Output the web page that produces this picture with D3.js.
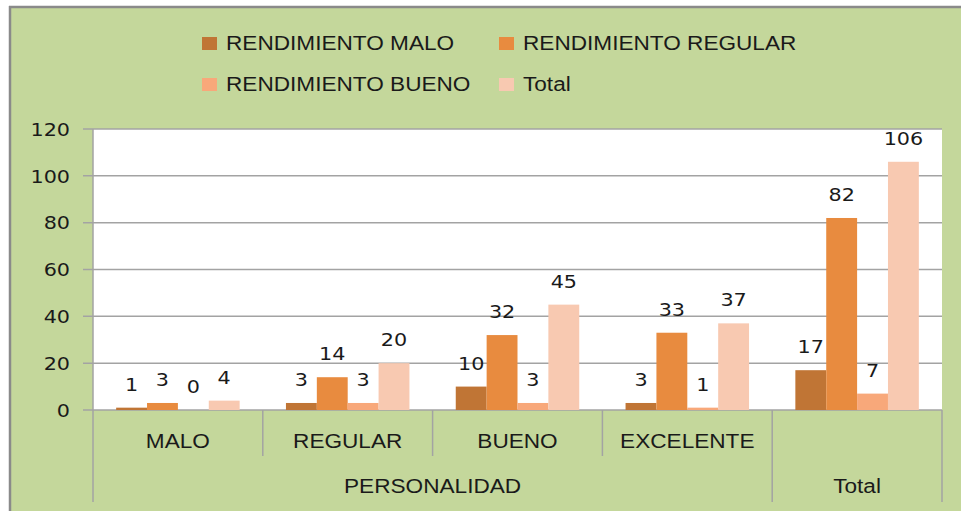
<!DOCTYPE html>
<html>
<head>
<meta charset="utf-8">
<script src="https://cdn.jsdelivr.net/npm/d3@7"></script>
<style>
  html, body { margin: 0; padding: 0; background: #fff; }
  svg { display: block; }
</style>
</head>
<body>
<svg id="chart" width="961" height="511"></svg>
<script>
const categories = ["MALO", "REGULAR", "BUENO", "EXCELENTE", "Total"];
const groupLabels = ["PERSONALIDAD", "Total"];
const series = ["RENDIMIENTO MALO", "RENDIMIENTO REGULAR", "RENDIMIENTO BUENO", "Total"];
const rendMalo    = [1, 3, 10, 3, 17];
const rendRegular = [3, 14, 32, 33, 82];
const rendBueno   = [0, 3, 3, 1, 7];
const totalVals   = [4, 20, 45, 37, 106];
const yTicks = [0, 20, 40, 60, 80, 100, 120];
const colors = ["#C07535", "#E88B3F", "#F8A87A", "#F8C9B1"];

const values = [rendMalo, rendRegular, rendBueno, totalVals];

const svg = d3.select("#chart");
const W = 961, H = 511;
const plot = { left: 93, right: 942, top: 129, bottom: 410 };
const textColor = "#1a1a1a";
const gridColor = "#A3A3A3";

function stretch(sel, factor) {
  sel.each(function () {
    const w = this.getComputedTextLength();
    d3.select(this).attr("textLength", w * factor).attr("lengthAdjust", "spacingAndGlyphs");
  });
}

// background
svg.append("rect").attr("width", W).attr("height", H).attr("fill", "#fff");
svg.append("rect").attr("x", 10).attr("y", 7).attr("width", W - 10).attr("height", H - 7).attr("fill", "#C4D79B");
svg.append("line").attr("x1", 9).attr("x2", W).attr("y1", 7).attr("y2", 7).attr("stroke", "#8A8A8A").attr("stroke-width", 2.5);
svg.append("line").attr("x1", 10).attr("x2", 10).attr("y1", 6).attr("y2", H).attr("stroke", "#8A8A8A").attr("stroke-width", 2.5);

// scales
const y = d3.scaleLinear().domain([0, 120]).range([plot.bottom, plot.top]);
const x0 = d3.scaleBand().domain(categories).range([plot.left, plot.right]).padding(0);
const x1 = d3.scaleBand().domain(series).range([0, x0.bandwidth()]).paddingInner(0).paddingOuter(0.75);

// plot area
svg.append("rect").attr("x", plot.left).attr("y", plot.top)
  .attr("width", plot.right - plot.left).attr("height", plot.bottom - plot.top).attr("fill", "#fff");

// gridlines + ticks
const gAxis = svg.append("g");
gAxis.selectAll("line.grid").data(yTicks).join("line")
  .attr("x1", plot.left - 10).attr("x2", plot.right)
  .attr("y1", d => y(d)).attr("y2", d => y(d))
  .attr("stroke", gridColor).attr("stroke-width", 1.5);
const yl = gAxis.selectAll("text.ytick").data(yTicks).join("text")
  .attr("x", 70).attr("y", d => y(d) + 6.7)
  .attr("text-anchor", "end")
  .attr("font-family", "DejaVu Sans").attr("font-size", 18).attr("fill", textColor)
  .text(d => d);
stretch(yl, 1.15);

// left axis line
svg.append("line").attr("x1", plot.left).attr("x2", plot.left).attr("y1", plot.top).attr("y2", plot.bottom)
  .attr("stroke", gridColor).attr("stroke-width", 1.5);

// bars
const rows = categories.map((c, i) => ({ cat: c, vals: series.map((s, j) => ({ s, j, v: values[j][i] })) }));
const gBars = svg.append("g");
const grp = gBars.selectAll("g").data(rows).join("g")
  .attr("transform", d => `translate(${x0(d.cat)},0)`);
grp.selectAll("rect").data(d => d.vals).join("rect")
  .attr("x", d => x1(d.s)).attr("width", x1.bandwidth())
  .attr("y", d => y(d.v)).attr("height", d => y(0) - y(d.v))
  .attr("fill", d => colors[d.j]);
const lbl = grp.selectAll("text").data(d => d.vals).join("text")
  .attr("x", d => x1(d.s) + x1.bandwidth() / 2)
  .attr("y", d => y(d.v) - 17)
  .attr("text-anchor", "middle")
  .attr("font-family", "DejaVu Sans").attr("font-size", 18).attr("fill", textColor)
  .text(d => d.v);
stretch(lbl, 1.15);

// category axis dividers
const dividerX = categories.map(c => x0(c)).concat([plot.right]);
const outer = new Set([0, 4, 5]);
svg.selectAll("line.div").data(dividerX).join("line")
  .attr("x1", d => d).attr("x2", d => d)
  .attr("y1", plot.bottom).attr("y2", (d, i) => outer.has(i) ? 502 : 456)
  .attr("stroke", gridColor).attr("stroke-width", 1.5);

const cl = svg.selectAll("text.cat").data(categories.slice(0, 4)).join("text")
  .attr("x", d => x0(d) + x0.bandwidth() / 2).attr("y", 448)
  .attr("text-anchor", "middle")
  .attr("font-family", "Liberation Sans").attr("font-size", 20).attr("fill", textColor)
  .text(d => d);
stretch(cl, 1.13);

const groupPos = [
  (x0("MALO") + x0("EXCELENTE") + x0.bandwidth()) / 2,
  x0("Total") + x0.bandwidth() / 2
];
const gl = svg.selectAll("text.grp").data(groupLabels).join("text")
  .attr("x", (d, i) => groupPos[i]).attr("y", 493)
  .attr("text-anchor", "middle")
  .attr("font-family", "Liberation Sans").attr("font-size", 20).attr("fill", textColor)
  .text(d => d);
stretch(gl, 1.13);

// legend
const legendPos = [
  { x: 202, y: 50 }, { x: 499, y: 50 },
  { x: 202, y: 91 }, { x: 499, y: 91 }
];
const lg = svg.append("g").selectAll("g").data(series).join("g")
  .attr("transform", (d, i) => `translate(${legendPos[i].x},${legendPos[i].y})`);
lg.append("rect").attr("x", 0).attr("y", -13).attr("width", 15).attr("height", 13)
  .attr("fill", (d, i) => colors[i]);
const lt = lg.append("text").attr("x", 24).attr("y", 0)
  .attr("font-family", "Liberation Sans").attr("font-size", 20).attr("fill", textColor)
  .text(d => d);
stretch(lt, 1.13);
</script>
</body>
</html>
